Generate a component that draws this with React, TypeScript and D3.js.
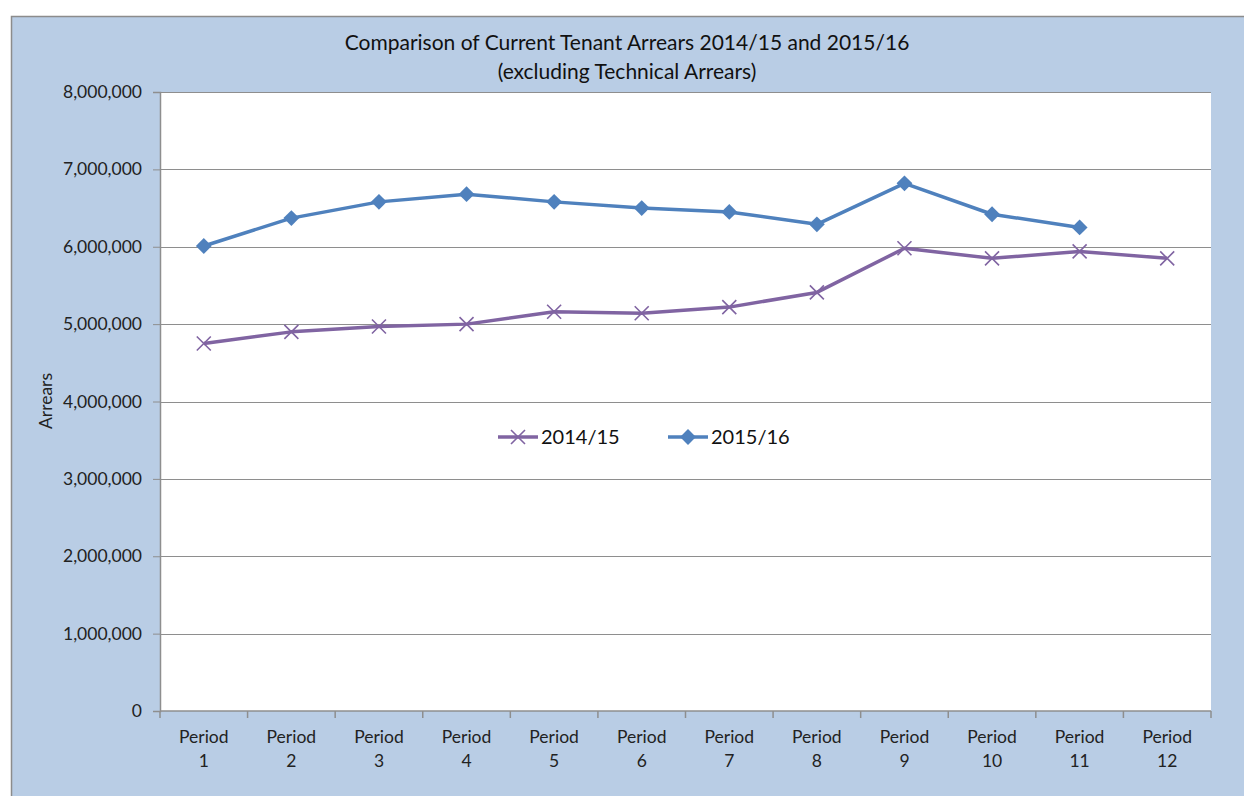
import React, { useEffect, useRef } from "react";
import * as d3 from "d3";

const periods = ["1", "2", "3", "4", "5", "6", "7", "8", "9", "10", "11", "12"];
const arrears1415 = [4750000, 4900000, 4970000, 5000000, 5160000, 5140000, 5220000, 5410000, 5980000, 5850000, 5940000, 5850000];
const arrears1516 = [6010000, 6370000, 6580000, 6680000, 6580000, 6500000, 6450000, 6290000, 6820000, 6420000, 6250000];
const yTicks = [0, 1000000, 2000000, 3000000, 4000000, 5000000, 6000000, 7000000, 8000000];

const FONT = "Lato, 'Open Sans', sans-serif";

const App = () => {
  const svgRef = useRef<SVGSVGElement>(null);

  useEffect(() => {
    const svg = d3.select(svgRef.current);
    svg.selectAll("*").remove();

    const plot = { left: 160, top: 92, right: 1211, bottom: 711 };

    // chart background
    svg.append("rect")
      .attr("x", 11.5).attr("y", 16.5)
      .attr("width", 1260).attr("height", 800)
      .attr("fill", "#B9CDE5").attr("stroke", "#8C8C8C").attr("stroke-width", 1.5);

    svg.append("rect")
      .attr("x", plot.left).attr("y", plot.top)
      .attr("width", plot.right - plot.left).attr("height", plot.bottom - plot.top)
      .attr("fill", "#fff");

    const x = d3.scaleBand().domain(periods).range([plot.left, plot.right]);
    const y = d3.scaleLinear().domain([0, 8000000]).range([plot.bottom, plot.top]);
    const cx = (i: number) => x(periods[i])! + x.bandwidth() / 2;

    // gridlines
    svg.append("g").selectAll("line")
      .data(yTicks.slice(1))
      .enter().append("line")
      .attr("x1", plot.left).attr("x2", plot.right)
      .attr("y1", d => Math.round(y(d)) + 0.5).attr("y2", d => Math.round(y(d)) + 0.5)
      .attr("stroke", "#8E8E8E").attr("stroke-width", 1);

    // y axis
    const yAxis = svg.append("g").attr("transform", `translate(${plot.left},0)`)
      .call(d3.axisLeft(y).tickValues(yTicks).tickSize(7).tickPadding(11).tickFormat(d3.format(",")));
    yAxis.select(".domain").attr("stroke", "#8E8E8E").attr("stroke-width", 1.5);
    yAxis.selectAll(".tick line").attr("stroke", "#8E8E8E");
    yAxis.selectAll("text").attr("font-family", FONT).attr("font-size", 17.5).attr("fill", "#222");

    // x axis
    const xAxis = svg.append("g").attr("transform", `translate(0,${plot.bottom})`);
    xAxis.append("line")
      .attr("x1", plot.left).attr("x2", plot.right)
      .attr("stroke", "#8E8E8E").attr("stroke-width", 1.5);
    xAxis.selectAll("line.tk")
      .data([...periods.map(p => x(p)!), plot.right])
      .enter().append("line").attr("class", "tk")
      .attr("x1", d => d).attr("x2", d => d).attr("y1", 0).attr("y2", 7)
      .attr("stroke", "#8E8E8E").attr("stroke-width", 1.5);
    const lbl = xAxis.selectAll("text.lbl")
      .data(periods)
      .enter().append("text").attr("class", "lbl")
      .attr("text-anchor", "middle")
      .attr("font-family", FONT).attr("font-size", 17.5).attr("fill", "#222");
    lbl.append("tspan").attr("x", (d, i) => cx(i)).attr("y", 32).text("Period");
    lbl.append("tspan").attr("x", (d, i) => cx(i)).attr("y", 56).text(d => d);

    // title
    const title = svg.append("text").attr("text-anchor", "middle")
      .attr("font-family", FONT).attr("font-size", 21).attr("fill", "#111");
    title.append("tspan").attr("x", 627).attr("y", 50).text("Comparison of Current Tenant Arrears 2014/15 and 2015/16");
    title.append("tspan").attr("x", 627).attr("y", 79).text("(excluding Technical Arrears)");

    svg.append("text")
      .attr("transform", "translate(52,401) rotate(-90)")
      .attr("text-anchor", "middle")
      .attr("font-family", FONT).attr("font-size", 17.5).attr("fill", "#222")
      .text("Arrears");

    const line = d3.line<number>().x((d, i) => cx(i)).y(d => y(d));

    const drawX = (g: any, px: number, py: number, s: number) => {
      g.append("path")
        .attr("d", `M${px - s},${py - s}L${px + s},${py + s}M${px - s},${py + s}L${px + s},${py - s}`)
        .attr("stroke", "#8064A2").attr("stroke-width", 1.6).attr("fill", "none");
    };
    const diamond = d3.symbol().type(d3.symbolDiamond2).size(160);

    // 2014/15
    svg.append("path").datum(arrears1415)
      .attr("d", line).attr("fill", "none")
      .attr("stroke", "#8064A2").attr("stroke-width", 3.5).attr("stroke-linejoin", "round");
    const g1 = svg.append("g");
    arrears1415.forEach((v, i) => drawX(g1, cx(i), y(v), 7));

    // 2015/16
    svg.append("path").datum(arrears1516)
      .attr("d", line).attr("fill", "none")
      .attr("stroke", "#4F81BD").attr("stroke-width", 3.5).attr("stroke-linejoin", "round");
    svg.append("g").selectAll("path")
      .data(arrears1516)
      .enter().append("path")
      .attr("d", diamond)
      .attr("transform", (d, i) => `translate(${cx(i)},${y(d)})`)
      .attr("fill", "#4F81BD");

    // legend
    const lg = svg.append("g");
    lg.append("line").attr("x1", 498).attr("x2", 538).attr("y1", 437).attr("y2", 437)
      .attr("stroke", "#8064A2").attr("stroke-width", 3.5);
    drawX(lg, 518, 437, 7);
    lg.append("text").attr("x", 541).attr("y", 444)
      .attr("font-family", FONT).attr("font-size", 20).attr("fill", "#111").text("2014/15");
    lg.append("line").attr("x1", 668).attr("x2", 708).attr("y1", 437).attr("y2", 437)
      .attr("stroke", "#4F81BD").attr("stroke-width", 3.5);
    lg.append("path").attr("d", diamond).attr("transform", "translate(688,437)").attr("fill", "#4F81BD");
    lg.append("text").attr("x", 711).attr("y", 444)
      .attr("font-family", FONT).attr("font-size", 20).attr("fill", "#111").text("2015/16");
  }, []);

  return (
    <svg
      ref={svgRef}
      width={1244}
      height={796}
      style={{ position: "absolute", left: 0, top: 0, background: "#fff" }}
    />
  );
};

export default App;
